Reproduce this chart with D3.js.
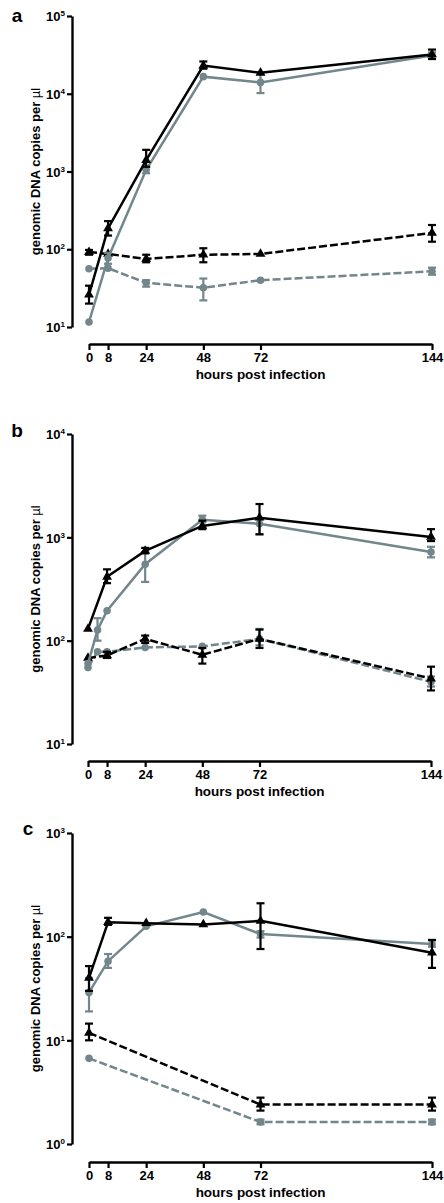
<!DOCTYPE html>
<html><head><meta charset="utf-8">
<script src="https://cdn.jsdelivr.net/npm/d3@7"></script>
<style>
html,body{margin:0;padding:0;background:#fff;}
svg text{font-family:"Liberation Sans",Arial,sans-serif;font-weight:bold;fill:#000;}
</style></head>
<body>
<svg id="chart" width="444" height="1203"></svg>
<script>
// ---------- DATA ----------
const xTicks = [0, 8, 24, 48, 72, 144];
const xTickLabels = ["0", "8", "24", "48", "72", "144"];
const yTitle = "genomic DNA copies per ";
const xTitle = "hours post infection";

// Panel a
const aTimes = [0, 8, 24, 48, 72, 144];
const aBlackSolid = [26, 185, 1400, 23000, 18600, 32000];
const aBlackSolidLo = [20, 150, 1150, 21000, 18600, 28000];
const aBlackSolidHi = [34, 230, 1900, 26000, 18600, 37000];
const aGraySolid = [11.6, 77, 1050, 16600, 14000, 31000];
const aGraySolidLo = [11.6, 65, 950, 16600, 10200, 28000];
const aGraySolidHi = [11.6, 90, 1150, 16600, 18000, 34000];
const aBlackDashed = [92, 87, 75, 85, 87, 162];
const aBlackDashedLo = [85, 87, 68, 68, 87, 125];
const aBlackDashedHi = [98, 87, 85, 103, 87, 205];
const aGrayDashed = [56, 57, 37, 32, 40, 52];
const aGrayDashedLo = [56, 57, 33, 22, 40, 47];
const aGrayDashedHi = [56, 57, 40, 42, 40, 58];

// Panel b
const bTimesBlack = [0, 8, 24, 48, 72, 144];
const bTimesGray = [0, 4, 8, 24, 48, 72, 144];
const bBlackSolid = [130, 415, 740, 1290, 1550, 1010];
const bBlackSolidLo = [130, 360, 700, 1200, 1070, 920];
const bBlackSolidHi = [130, 490, 790, 1450, 2100, 1200];
const bGraySolid = [60, 127, 195, 550, 1480, 1350, 720];
const bGraySolidLo = [60, 100, 195, 370, 1400, 1070, 640];
const bGraySolidHi = [60, 165, 195, 720, 1620, 1500, 810];
const bBlackDashed = [68, 72, 104, 73, 104, 43];
const bBlackDashedLo = [68, 68, 95, 60, 85, 33];
const bBlackDashedHi = [68, 78, 112, 85, 128, 56];
const bGrayDashed = [55, 78, 78, 86, 88, 104, 40];
const bGrayDashedLo = [55, 78, 78, 86, 88, 90, 36];
const bGrayDashedHi = [55, 78, 78, 86, 88, 130, 45];

// Panel c
const cTimes = [0, 8, 24, 48, 72, 144];
const cTimesDashed = [0, 72, 144];
const cBlackSolid = [40, 138, 135, 131, 142, 70];
const cBlackSolidLo = [30, 130, 135, 131, 76, 50];
const cBlackSolidHi = [52, 152, 135, 131, 210, 93];
const cGraySolid = [29, 58, 126, 173, 106, 85];
const cGraySolidLo = [19, 50, 126, 173, 98, 80];
const cGraySolidHi = [40, 68, 126, 173, 113, 92];
const cBlackDashed = [11.8, 2.4, 2.4];
const cBlackDashedLo = [10, 2.1, 2.1];
const cBlackDashedHi = [14.5, 2.8, 2.8];
const cGrayDashed = [6.7, 1.63, 1.63];
const cGrayDashedLo = [6.7, 1.55, 1.55];
const cGrayDashedHi = [6.7, 1.72, 1.72];

// ---------- LAYOUT / STYLE ----------
const GRAY = "#72868c";
const BLACK = "#000";

function mk(t, v, lo, hi, color, dashed, shape) {
  return {pts: t.map((d, i) => ({t: d, v: v[i], lo: lo[i], hi: hi[i]})), color, dashed, shape};
}

const panels = [
  {label: "a", lx: 17, ly: 22, yTop: 16, yBot: 327, dom: [10, 1e5], xAxisY: 344, x0: 89, x1: 432,
   series: [
     mk(aTimes, aGrayDashed, aGrayDashedLo, aGrayDashedHi, GRAY, true, "c"),
     mk(aTimes, aBlackDashed, aBlackDashedLo, aBlackDashedHi, BLACK, true, "t"),
     mk(aTimes, aGraySolid, aGraySolidLo, aGraySolidHi, GRAY, false, "c"),
     mk(aTimes, aBlackSolid, aBlackSolidLo, aBlackSolidHi, BLACK, false, "t")
   ]},
  {label: "b", lx: 17, ly: 437, yTop: 434, yBot: 744, dom: [10, 1e4], xAxisY: 761, x0: 88, x1: 431,
   series: [
     mk(bTimesGray, bGrayDashed, bGrayDashedLo, bGrayDashedHi, GRAY, true, "c"),
     mk(bTimesBlack, bBlackDashed, bBlackDashedLo, bBlackDashedHi, BLACK, true, "t"),
     mk(bTimesGray, bGraySolid, bGraySolidLo, bGraySolidHi, GRAY, false, "c"),
     mk(bTimesBlack, bBlackSolid, bBlackSolidLo, bBlackSolidHi, BLACK, false, "t")
   ]},
  {label: "c", lx: 28, ly: 835, yTop: 833, yBot: 1144, dom: [1, 1e3], xAxisY: 1162, x0: 89, x1: 432,
   series: [
     mk(cTimesDashed, cGrayDashed, cGrayDashedLo, cGrayDashedHi, GRAY, true, "c"),
     mk(cTimesDashed, cBlackDashed, cBlackDashedLo, cBlackDashedHi, BLACK, true, "t"),
     mk(cTimes, cGraySolid, cGraySolidLo, cGraySolidHi, GRAY, false, "c"),
     mk(cTimes, cBlackSolid, cBlackSolidLo, cBlackSolidHi, BLACK, false, "t")
   ]}
];

const svg = d3.select("#chart");
const AXIS_X = 72;

panels.forEach(p => {
  const g = svg.append("g");
  const x = d3.scaleLinear().domain([0, 144]).range([p.x0, p.x1]);
  const y = d3.scaleLog().domain(p.dom).range([p.yBot, p.yTop]);
  const yTicks = [];
  for (let e = Math.round(Math.log10(p.dom[0])); e <= Math.round(Math.log10(p.dom[1])); e++) yTicks.push(Math.pow(10, e));

  // Y axis
  const ya = g.append("g").attr("transform", `translate(${AXIS_X},0)`)
    .call(d3.axisLeft(y).tickValues(yTicks).tickSize(5).tickSizeOuter(0).tickFormat(""));
  ya.select(".domain").attr("stroke", "#000").attr("stroke-width", 2.4);
  ya.selectAll(".tick line").attr("stroke", "#000").attr("stroke-width", 2.2);
  ya.selectAll(".tick").each(function(d) {
    const t = d3.select(this).append("text").attr("x", -7).attr("dy", "0.36em")
      .attr("text-anchor", "end").style("font-size", "13px");
    t.append("tspan").text("10");
    t.append("tspan").text(String(Math.round(Math.log10(d)))).style("font-size", "8px").attr("dy", "-5");
  });

  // X axis
  const xa = g.append("g").attr("transform", `translate(0,${p.xAxisY})`)
    .call(d3.axisBottom(x).tickValues(xTicks).tickSize(6).tickSizeOuter(0)
      .tickFormat((d, i) => xTickLabels[i]));
  xa.select(".domain").attr("stroke", "#000").attr("stroke-width", 2.4);
  xa.selectAll(".tick line").attr("stroke", "#000").attr("stroke-width", 2.2);
  xa.selectAll(".tick text").attr("y", 9).attr("dy", "0.71em").style("font-size", "13px").attr("fill", "#000");

  // titles
  g.append("text").attr("x", (p.x0 + p.x1) / 2).attr("y", p.xAxisY + 35)
    .attr("text-anchor", "middle").style("font-size", "13.5px").text(xTitle);
  const yt = g.append("text")
    .attr("transform", `translate(40,${(p.yTop + p.yBot) / 2}) rotate(-90)`)
    .attr("text-anchor", "middle").style("font-size", "13px");
  yt.append("tspan").text(yTitle);
  yt.append("tspan").text("µl").style("font-weight", "normal");

  // panel label
  g.append("text").attr("x", p.lx).attr("y", p.ly).attr("text-anchor", "middle")
    .style("font-size", "19px").text(p.label);

  // series
  const line = d3.line().x(d => x(d.t)).y(d => y(d.v));
  p.series.forEach(s => {
    const sg = g.append("g");
    // error bars
    s.pts.filter(d => d.hi > d.lo).forEach(d => {
      const cx = x(d.t);
      sg.append("line").attr("x1", cx).attr("x2", cx).attr("y1", y(d.lo)).attr("y2", y(d.hi))
        .attr("stroke", s.color).attr("stroke-width", 2.2);
      [d.lo, d.hi].forEach(v => {
        sg.append("line").attr("x1", cx - 4).attr("x2", cx + 4).attr("y1", y(v)).attr("y2", y(v))
          .attr("stroke", s.color).attr("stroke-width", 2.2);
      });
    });
    sg.append("path").datum(s.pts).attr("d", line).attr("fill", "none")
      .attr("stroke", s.color).attr("stroke-width", 2.5)
      .attr("stroke-dasharray", s.dashed ? "8,3" : null);
    const sym = d3.symbol().type(s.shape === "t" ? d3.symbolTriangle : d3.symbolCircle)
      .size(s.shape === "t" ? 42 : 45);
    sg.selectAll(".m").data(s.pts).enter().append("path")
      .attr("transform", d => `translate(${x(d.t)},${y(d.v)})`)
      .attr("d", sym).attr("fill", s.color);
  });
});
</script>
</body></html>
